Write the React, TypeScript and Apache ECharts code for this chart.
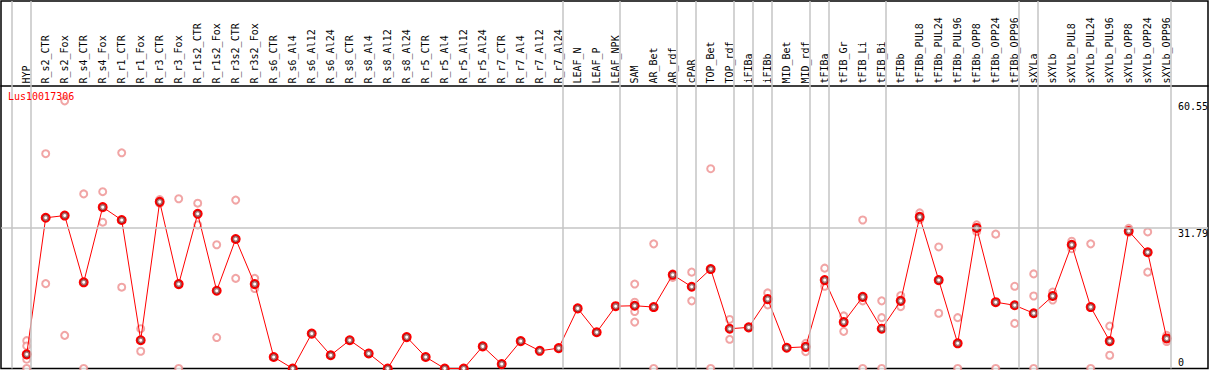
import React, { useEffect, useRef } from "react";
import * as echarts from "echarts";

const categories = [
  "HYP", "R_s2_CTR", "R_s2_Fox", "R_s4_CTR", "R_s4_Fox", "R_r1_CTR", "R_r1_Fox", "R_r3_CTR", "R_r3_Fox",
  "R_r1s2_CTR", "R_r1s2_Fox", "R_r3s2_CTR", "R_r3s2_Fox", "R_s6_CTR", "R_s6_Al4", "R_s6_Al12", "R_s6_Al24",
  "R_s8_CTR", "R_s8_Al4", "R_s8_Al12", "R_s8_Al24", "R_r5_CTR", "R_r5_Al4", "R_r5_Al12", "R_r5_Al24",
  "R_r7_CTR", "R_r7_Al4", "R_r7_Al12", "R_r7_Al24", "LEAF_N", "LEAF_P", "LEAF_NPK", "SAM", "AR_Bet", "AR_rdf",
  "cPAR", "TOP_Bet", "TOP_rdf", "iFIBa", "iFIBb", "MID_Bet", "MID_rdf", "tFIBa", "tFIB_Gr", "tFIB_Li", "tFIB_Bi",
  "tFIBb", "tFIBb_PUL8", "tFIBb_PUL24", "tFIBb_PUL96", "tFIBb_OPP8", "tFIBb_OPP24", "tFIBb_OPP96", "sXYLa",
  "sXYLb", "sXYLb_PUL8", "sXYLb_PUL24", "sXYLb_PUL96", "sXYLb_OPP8", "sXYLb_OPP24", "sXYLb_OPP96",
];

const meanValues = [
  3.2, 34.1, 34.6, 19.5, 36.5, 33.6, 6.4, 37.7, 19.1, 35.0, 17.6, 29.3, 19.1, 2.6, 0, 7.9, 3.0,
  6.4, 3.4, 0, 7.1, 2.6, 0, 0, 5.0, 1.0, 6.2, 4.0, 4.6, 13.6, 8.2, 14.1, 14.2, 13.9, 21.2,
  18.5, 22.5, 9.0, 9.3, 15.7, 4.7, 4.9, 20.0, 10.5, 16.2, 9.0, 15.3, 34.3, 20.0, 5.7, 31.8, 15.0, 14.3,
  12.5, 16.4, 28.0, 13.9, 6.2, 31.1, 26.3, 6.8,
];

const replicateValues: number[][] = [
  [6.3, 5.1, 2.1, 0], [48.6, 19.2], [60.55, 7.5], [39.5, 0], [40.0, 33.1], [48.8, 18.4], [9.0, 3.9],
  [38.2, 37.4], [38.4, 0], [37.4, 32.5], [28.0, 7.0], [38.1, 20.4], [20.4, 18.1],
  [], [], [], [], [], [], [], [], [], [], [], [], [], [], [], [], [], [], [],
  [19.1, 15.0, 12.9, 10.5], [28.2, 0], [21.4, 20.6], [21.8, 15.3], [45.2, 0], [11.1, 6.6], [],
  [17.1, 14.4], [], [5.7, 3.8], [22.7, 18.6], [11.9, 8.4], [33.6, 15.3, 0], [15.3, 11.5, 0],
  [16.5, 14.0], [35.2, 33.7], [27.5, 12.5], [11.5, 0], [32.5, 31.0], [30.4, 0], [18.6, 10.2],
  [21.4, 16.4, 0], [17.3, 15.5], [28.8, 27.1], [28.2, 0], [9.6, 3.0], [31.7, 30.8], [30.9, 21.8], [7.5, 6.1],
];

// index of the last category of each group (separator drawn just after it)
const groupEnds = [-1, 0, 28, 31, 34, 35, 37, 38, 39, 41, 42, 45, 52, 53, 60];
const yLabelValues = [0, 31.79, 60.55];
const yGridValues = [31.79];
const geneName = "Lus10017306";

export default function App() {
  const ref = useRef<HTMLDivElement>(null);
  useEffect(() => {
    document.body.style.margin = "0";
    const chart = echarts.init(ref.current!, null, { renderer: "svg" });
    const mono = "DejaVu Sans Mono";
    const x0 = 26.7;
    const step = 19;
    const gridLeft = 1;
    const gridWidth = 1207;
    const gridTop = 1;
    const zeroPx = 368.5;
    const pxPerUnit = 4.42;
    const headerPx = 85.5;
    const xMin = (gridLeft - x0) / step;
    const xMax = (gridLeft + gridWidth - x0) / step;
    const yMax = (zeroPx - gridTop) / pxPerUnit;
    const sepOffset = 4 / step;

    const replicateData: number[][] = [];
    replicateValues.forEach((arr, i) => arr.forEach((v) => replicateData.push([i, v])));
    const meanData = meanValues.map((v, i) => [i, v]);

    chart.setOption({
      animation: false,
      title: {
        text: geneName,
        left: 8,
        top: 91,
        padding: 0,
        textStyle: { color: "#ff0000", fontFamily: mono, fontSize: 10, fontWeight: "normal" },
      },
      grid: {
        left: gridLeft,
        top: gridTop,
        width: gridWidth,
        height: zeroPx - gridTop,
        show: true,
        borderColor: "#000",
        borderWidth: 1.5,
        backgroundColor: "#fff",
        outerBoundsMode: "none",
        containLabel: false,
      },
      xAxis: {
        type: "value",
        position: "top",
        offset: -(headerPx - gridTop),
        min: xMin,
        max: xMax,
        axisLine: { show: true, onZero: false, lineStyle: { color: "#000", width: 1.5 } },
        axisTick: { show: false },
        splitLine: { show: false },
        axisLabel: {
          customValues: categories.map((_, i) => i),
          formatter: (v: number) => categories[Math.round(v)] ?? "",
          rotate: -90,
          margin: 2,
          color: "#000",
          fontFamily: mono,
          fontSize: 10,
        },
      },
      yAxis: {
        type: "value",
        position: "right",
        min: 0,
        max: yMax,
        axisLine: { show: false },
        axisTick: { show: false },
        splitLine: { show: false },
        axisLabel: {
          inside: true,
          align: "left",
          margin: 30,
          customValues: yLabelValues,
          formatter: (v: number) => (v === 0 ? "{z|0}" : "{t|" + v.toFixed(2) + "}"),
          color: "#000",
          fontFamily: mono,
          fontSize: 10,
          rich: {
            t: { padding: [11, 0, 0, 0], fontFamily: mono, fontSize: 10, color: "#000" },
            z: { padding: [0, 0, 12, 0], fontFamily: mono, fontSize: 10, color: "#000" },
          },
        },
      },
      series: [
        {
          type: "line",
          data: [],
          z: 1,
          silent: true,
          markLine: {
            silent: true,
            symbol: "none",
            label: { show: false },
            lineStyle: { color: "#c4c4c4", width: 1.5, type: "solid" },
            data: [
              ...groupEnds.map((g) => ({ xAxis: g + sepOffset })),
              ...yGridValues.map((v) => ({ yAxis: v })),
            ],
          },
        },
        {
          type: "scatter",
          data: replicateData,
          z: 2,
          symbol: "emptyCircle",
          symbolSize: 7,
          itemStyle: { color: "#ee8e8e", borderColor: "#ee8e8e", borderWidth: 1.2 },
        },
        {
          type: "line",
          data: meanData,
          z: 3,
          symbol: "emptyCircle",
          symbolSize: 8,
          showAllSymbol: true,
          lineStyle: { color: "#ff0000", width: 1 },
          itemStyle: { color: "#ff0000", borderColor: "#ff0000", borderWidth: 1.6 },
        },
        {
          type: "scatter",
          data: meanData,
          z: 4,
          silent: true,
          symbol: "emptyCircle",
          symbolSize: 5,
          itemStyle: { color: "#600000", borderColor: "#600000", borderWidth: 0.6, opacity: 0.55 },
        },
      ],
    });
    return () => chart.dispose();
  }, []);
  return <div ref={ref} style={{ width: 1209, height: 370 }} />;
}
